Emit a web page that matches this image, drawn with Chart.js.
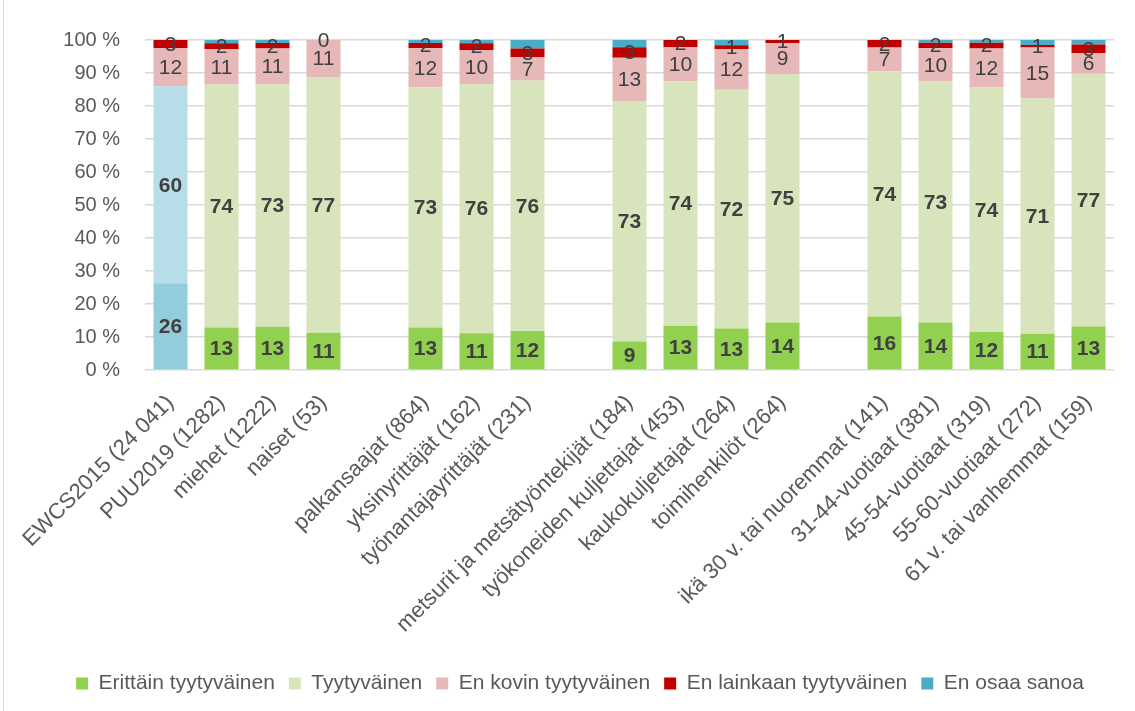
<!DOCTYPE html>
<html>
<head>
<meta charset="utf-8">
<script src="https://cdn.jsdelivr.net/npm/chart.js@4/dist/chart.umd.min.js"></script>
<style>
    body { margin: 0; background: #fff; }
    #wrap { position: relative; width: 1135px; height: 711px; }
    #frame { position: absolute; left: 3px; top: 0; width: 0; height: 711px; border-left: 1px solid #d9d9d9; }
</style>
</head>
<body>
<div id="wrap">
    <canvas id="myChart"></canvas>
    <div id="frame"></div>
</div>
<script>
const categories = [
    'EWCS2015 (24 041)', 'PUU2019 (1282)', 'miehet (1222)', 'naiset (53)', '',
    'palkansaajat (864)', 'yksinyrittäjät (162)', 'työnantajayrittäjät (231)', '',
    'metsurit ja metsätyöntekijät (184)', 'työkoneiden kuljettajat (453)', 'kaukokuljettajat (264)', 'toimihenkilöt (264)', '',
    'ikä 30 v. tai nuoremmat (141)', '31-44-vuotiaat (381)', '45-54-vuotiaat (319)', '55-60-vuotiaat (272)', '61 v. tai vanhemmat (159)'
];
const seriesNames = ['Erittäin tyytyväinen', 'Tyytyväinen', 'En kovin tyytyväinen', 'En lainkaan tyytyväinen', 'En osaa sanoa'];

const erittain = [26.3, 12.9, 13.1, 11.3, null, 12.9, 11.1, 11.8, null, 8.6, 13.4, 12.6, 14.4, null, 16.2, 14.4, 11.5, 11.0, 13.2];
const tyytyvainen = [59.7, 73.6, 73.4, 77.4, null, 72.8, 75.6, 75.9, null, 72.8, 74.1, 72.3, 75.3, null, 74.3, 73.0, 74.1, 71.3, 76.6];
const enKovin = [11.5, 10.7, 10.9, 11.3, null, 11.8, 10.3, 7.1, null, 13.2, 10.3, 12.3, 9.3, null, 7.2, 10.1, 11.8, 15.4, 6.2];
const enLainkaan = [2.5, 1.8, 1.7, 0, null, 1.6, 2.0, 2.6, null, 3.2, 2.2, 1.2, 1.0, null, 2.3, 1.7, 1.8, 0.8, 2.6];
const enOsaa = [0, 1.0, 0.9, 0, null, 0.9, 1.0, 2.6, null, 2.2, 0, 1.6, 0, null, 0, 0.8, 0.8, 1.5, 1.4];

const green = '#92d050';
const lightGreen = '#d8e4bc';
const pink = '#e6b9b8';
const red = '#c00000';
const blue = '#4bacc6';
const fontFam = "'Liberation Sans', Arial, sans-serif";
const textColor = '#595959';

// first bar (EWCS) is drawn in blue shades
const colorsFor = (base, first) => categories.map((c, i) => i === 0 ? first : base);

const barLabels = {
    id: 'barLabels',
    afterDatasetsDraw(chart) {
        const ctx = chart.ctx;
        ctx.save();
        ctx.textAlign = 'center';
        ctx.textBaseline = 'middle';
        ctx.fillStyle = '#404040';
        for (let d = 0; d < 4; d++) {
            const meta = chart.getDatasetMeta(d);
            const values = chart.data.datasets[d].data;
            ctx.font = (d < 2 ? 'bold 21px ' : '21px ') + fontFam;
            meta.data.forEach((bar, i) => {
                if (values[i] === null) return;
                const y = (bar.y + bar.base) / 2;
                ctx.fillText(Math.round(values[i]), bar.x, y + 1);
            });
        }
        ctx.restore();
    }
};

const data = {
    labels: categories,
    datasets: [
        {label: seriesNames[0], data: erittain, backgroundColor: colorsFor(green, '#93cddd')},
        {label: seriesNames[1], data: tyytyvainen, backgroundColor: colorsFor(lightGreen, '#b7dee8')},
        {label: seriesNames[2], data: enKovin, backgroundColor: pink},
        {label: seriesNames[3], data: enLainkaan, backgroundColor: red},
        {label: seriesNames[4], data: enOsaa, backgroundColor: blue}
    ]
};
data.datasets.forEach(ds => {
    ds.barPercentage = 1;
    ds.categoryPercentage = 0.667;
    ds.borderWidth = 0;
});

const config = {
    type: 'bar',
    data: data,
    plugins: [barLabels],
    options: {
        responsive: true,
        maintainAspectRatio: false,
        animation: false,
        layout: {
            padding: {top: 40, right: 0, bottom: 7, left: 25}
        },
        scales: {
            x: {
                stacked: true,
                grid: {display: false, drawTicks: false},
                border: {display: false},
                ticks: {
                    color: textColor,
                    font: {size: 22, family: fontFam},
                    maxRotation: 45,
                    minRotation: 45,
                    autoSkip: false,
                    padding: 20
                },
                afterFit: (scale) => {
                    scale.height = 289;
                    scale.paddingLeft = 0;
                    scale.paddingRight = 0;
                }
            },
            y: {
                stacked: true,
                min: 0,
                max: 100,
                grid: {color: '#d9d9d9', lineWidth: 1.5, drawTicks: false},
                border: {display: false},
                ticks: {
                    stepSize: 10,
                    color: textColor,
                    font: {size: 20, family: fontFam},
                    padding: 25,
                    callback: (value) => value + '\u00a0%'
                },
                afterFit: (scale) => { scale.width = 120; }
            },
            // empty spacer on the right so the plot ends where the reference does
            spacer: {
                position: 'right',
                display: true,
                grid: {display: false, drawTicks: false},
                border: {display: false},
                ticks: {display: false},
                afterFit: (scale) => { scale.width = 21; }
            }
        },
        plugins: {
            legend: {
                position: 'bottom',
                labels: {
                    color: textColor,
                    font: {size: 21, family: fontFam},
                    boxWidth: 12,
                    boxHeight: 12,
                    padding: 14,
                    generateLabels: (chart) => chart.data.datasets.map((ds, i) => ({
                        text: ds.label,
                        fillStyle: [green, lightGreen, pink, red, blue][i],
                        strokeStyle: 'transparent',
                        lineWidth: 0,
                        fontColor: textColor,
                        datasetIndex: i
                    }))
                }
            },
            tooltip: {enabled: false}
        }
    }
};

const myChart = new Chart(document.getElementById('myChart'), config);
</script>
</body>
</html>
